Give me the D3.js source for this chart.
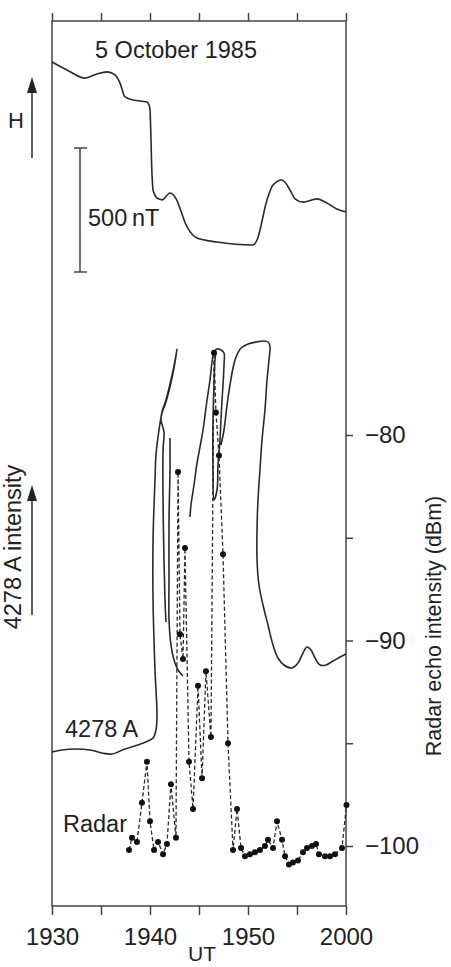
<!DOCTYPE html>
<html><head><meta charset="utf-8">
<script src="https://cdn.jsdelivr.net/npm/d3@7"></script>
<style>
html,body{margin:0;padding:0;background:#fff;}
svg{display:block;}
text{font-family:"Liberation Sans",Arial,Helvetica,sans-serif;fill:#222;}
</style>
</head><body>
<svg id="c" width="451" height="967"></svg>
<script>
// ---- axis ticks / labels (time in minutes after 19:30 UT) ----
const timeTicks = [0, 5, 10, 15, 20, 25, 30];
const timeLabelMinutes = [0, 10, 20, 30];
const timeLabels = ["1930", "1940", "1950", "2000"];
const radarTicks = [-80, -85, -90, -95, -100];
const radarLabelTicks = [-80, -90, -100];

// ---- H magnetogram (nT, relative) ----
const hTime = [0, 1.53, 3.37, 4.59, 5.61, 6.43, 6.94, 7.45, 8.27, 9.69, 9.90, 10.0, 10.2, 10.31, 10.71, 11.22, 12.04, 12.55, 13.78, 14.80, 16.84, 20.51, 20.92, 21.94, 22.55, 23.47, 24.29, 24.80, 25.61, 27.04, 28.06, 29.08, 30];
const hValue = [0, -32, -65, -48, -40, -52, -85, -141, -153, -161, -173, -194, -448, -516, -548, -556, -528, -544, -665, -710, -726, -738, -718, -556, -496, -476, -516, -552, -565, -552, -569, -593, -605];

// ---- 4278 A photometer trace (arbitrary units, pen trace; null = pen lift) ----
const uvTime = [
  0, 1.02, 2.35, 3.88, 5.10, 6.12, 7.45, 8.78, 9.80, 10.31, 10.61, 10.71, 10.51, 10.31, 10.31, 10.51, 10.61, 10.82, 11.22, 11.53, 12.04, 12.45, 12.76,
  12.45, 12.04, 11.63, 11.22, 11.12, 11.43, 11.33, 11.33, 11.43, 11.53, 11.63,
  null,
  12.04, 12.04, 11.94, 11.94, 11.94, 12.14, 12.45, 12.86, 13.37,
  null,
  14.08, 14.18, 14.49, 14.80, 15.10, 15.41, 15.82, 16.12, 16.33, 16.53, 16.84, 17.24, 17.55, 17.55, 17.45, 17.35, 17.24, 17.14, 16.94, 16.84, 16.53, 16.43, 16.43, 16.53, 16.63, 16.73,
  null,
  17.24, 17.55, 17.86, 18.16, 18.47, 18.78, 19.29, 20.00, 20.82, 21.63, 22.04, 22.24, 22.14, 21.94, 21.73, 21.43, 21.22, 21.02, 20.92, 20.92, 21.12, 21.53, 22.04, 22.55, 23.06, 23.67, 24.49, 25.10, 25.61, 26.02, 26.43, 26.84, 27.35, 27.96, 28.67, 29.39, 30.00
];
const uvValue = [
  8, 10, 11, 10, 7, 6, 11, 15, 19, 22, 30, 45, 90, 160, 220, 280, 305, 323, 347, 355, 373, 392, 411,
  394, 376, 360, 348, 340, 328, 310, 260, 200, 160, 138,
  null,
  322, 290, 240, 180, 140, 115, 100, 90, 84,
  null,
  243, 255, 275, 297, 313, 330, 360, 380, 398, 408, 411, 410, 407, 395, 375, 360, 340, 320, 295, 270, 260, 290, 340, 375, 400, 408,
  null,
  315, 330, 355, 375, 392, 403, 412, 416, 418, 419, 418, 414, 400, 380, 350, 320, 290, 260, 230, 200, 175, 155, 135, 115, 102, 95, 92, 97, 107, 113, 110, 102, 95, 95, 99, 103, 106
];

// ---- Radar echo intensity (dBm) ----
const radarTime = [7.86, 8.16, 8.67, 9.18, 9.69, 10.0, 10.41, 10.82, 11.33, 11.73, 12.14, 12.65, 12.86, 13.06, 13.37, 13.57, 13.98, 14.39, 14.90, 15.31, 15.71, 16.22, 16.53, 16.73, 17.04, 17.45, 17.96, 18.47, 18.88, 19.29, 19.69, 20.20, 20.71, 21.22, 21.73, 22.04, 22.55, 22.96, 23.47, 23.78, 24.18, 24.59, 25.10, 25.61, 26.02, 26.53, 26.94, 27.24, 27.86, 28.37, 28.88, 29.59, 30.05];
const radarDbm = [-100.2, -99.6, -99.8, -97.9, -95.9, -98.8, -100.2, -99.8, -100.4, -99.9, -97.0, -99.6, -81.8, -89.7, -90.9, -85.5, -95.9, -98.2, -92.2, -96.7, -91.5, -94.7, -76.0, -78.9, -81.0, -85.8, -95.0, -100.2, -98.2, -100.1, -100.5, -100.4, -100.3, -100.2, -100.0, -99.7, -100.1, -98.8, -99.7, -100.5, -100.9, -100.8, -100.7, -100.3, -100.1, -100.0, -99.9, -100.4, -100.5, -100.5, -100.4, -100.1, -98.0];

// ---- layout ----
const L = 52, R = 346, T = 21, B = 906;
const svg = d3.select("#c");
const ink = "#2a2a2a";
const FS = "23.5px";

const x = d3.scaleLinear().domain([0, 30]).range([L, R]);
const yH = d3.scaleLinear().domain([0, -500]).range([62, 186]);
const yI = d3.scaleLinear().domain([0, 420]).range([760, 340]);
const yR = d3.scaleLinear().domain([-80, -100]).range([435, 846]);

// frame
svg.append("rect").attr("x", L).attr("y", T).attr("width", R - L).attr("height", B - T)
  .attr("fill", "none").attr("stroke", "#444").attr("stroke-width", 1.5);

// top axis (ticks only)
const gTop = svg.append("g").attr("transform", `translate(0,${T})`)
  .call(d3.axisTop(x).tickValues(timeTicks).tickFormat("").tickSize(8).tickSizeOuter(0));
gTop.select(".domain").remove();
gTop.selectAll("line").attr("stroke", "#444").attr("stroke-width", 1.5);

// bottom axis
const gBot = svg.append("g").attr("transform", `translate(0,${B})`)
  .call(d3.axisBottom(x).tickValues(timeTicks)
    .tickFormat(d => { const i = timeLabelMinutes.indexOf(d); return i >= 0 ? timeLabels[i] : ""; })
    .tickSize(9).tickSizeOuter(0));
gBot.select(".domain").remove();
gBot.selectAll("line").attr("stroke", "#444").attr("stroke-width", 1.5);
gBot.selectAll("text").attr("y", 39).attr("dy", 0).style("font-size", "24px").attr("fill", "#222");

svg.append("text").attr("x", 202).attr("y", 961).attr("text-anchor", "middle")
  .style("font-size", "21px").text("UT");

// right axis (radar)
const gR = svg.append("g").attr("transform", `translate(${R},0)`)
  .call(d3.axisRight(yR).tickValues(radarTicks)
    .tickFormat(d => radarLabelTicks.includes(d) ? "\u2212" + Math.abs(d) : "")
    .tickSize(7).tickPadding(12).tickSizeOuter(0));
gR.select(".domain").remove();
gR.selectAll("line").attr("stroke", "#444").attr("stroke-width", 1.5);
gR.selectAll("text").style("font-size", "24px").attr("fill", "#222");

svg.append("text").attr("transform", "translate(441,626) rotate(-90)")
  .attr("text-anchor", "middle").style("font-size", "21.5px").text("Radar echo intensity (dBm)");

// H curve
const hData = hTime.map((t, i) => [t, hValue[i]]);
svg.append("path").datum(hData)
  .attr("d", d3.line().x(d => x(d[0])).y(d => yH(d[1])).curve(d3.curveMonotoneX))
  .attr("fill", "none").attr("stroke", ink).attr("stroke-width", 1.6);

// 500 nT scale bar
const barTop = 148, barLen = yH(-500) - yH(0);
const sb = svg.append("g").attr("stroke", "#444").attr("stroke-width", 1.5);
sb.append("line").attr("x1", 80).attr("x2", 80).attr("y1", barTop).attr("y2", barTop + barLen);
sb.append("line").attr("x1", 74).attr("x2", 87).attr("y1", barTop).attr("y2", barTop);
sb.append("line").attr("x1", 74).attr("x2", 87).attr("y1", barTop + barLen).attr("y2", barTop + barLen);
svg.append("text").attr("x", 88).attr("y", 226).style("font-size", FS).text("500\u2009nT");

// 4278 A trace
const uvData = uvTime.map((t, i) => [t, uvValue[i]]);
svg.append("path").datum(uvData)
  .attr("d", d3.line().defined(d => d[0] !== null && d[1] !== null)
    .x(d => x(d[0])).y(d => yI(d[1])).curve(d3.curveCatmullRom.alpha(0.5)))
  .attr("fill", "none").attr("stroke", ink).attr("stroke-width", 1.6).attr("stroke-linejoin", "round");

// radar dashed with dots
const rData = radarTime.map((t, i) => [t, radarDbm[i]]);
svg.append("path").datum(rData)
  .attr("d", d3.line().x(d => x(d[0])).y(d => yR(d[1])))
  .attr("fill", "none").attr("stroke", ink).attr("stroke-width", 1.3).attr("stroke-dasharray", "4,2.5");
svg.append("g").selectAll("circle").data(rData).join("circle")
  .attr("cx", d => x(d[0])).attr("cy", d => yR(d[1])).attr("r", 3).attr("fill", "#111");

// labels
svg.append("text").attr("x", 95).attr("y", 58).style("font-size", FS).text("5 October 1985");
svg.append("text").attr("x", 16).attr("y", 128).attr("text-anchor", "middle").style("font-size", "22px").text("H");
svg.append("text").attr("x", 65).attr("y", 737).style("font-size", FS).text("4278 A");
svg.append("text").attr("x", 63).attr("y", 832).style("font-size", FS).text("Radar");
svg.append("text").attr("transform", "translate(21,547) rotate(-90)")
  .attr("text-anchor", "middle").style("font-size", "23.5px").text("4278 A intensity");

// arrows
function arrow(xa, yBottom, yTip) {
  svg.append("line").attr("x1", xa).attr("x2", xa).attr("y1", yBottom).attr("y2", yTip + 12)
    .attr("stroke", "#333").attr("stroke-width", 1.6);
  svg.append("path").attr("d", `M${xa},${yTip} L${xa - 5},${yTip + 16} L${xa + 5},${yTip + 16} Z`).attr("fill", "#222");
}
arrow(32, 158, 77);
arrow(32, 615, 485);
</script>
</body></html>
